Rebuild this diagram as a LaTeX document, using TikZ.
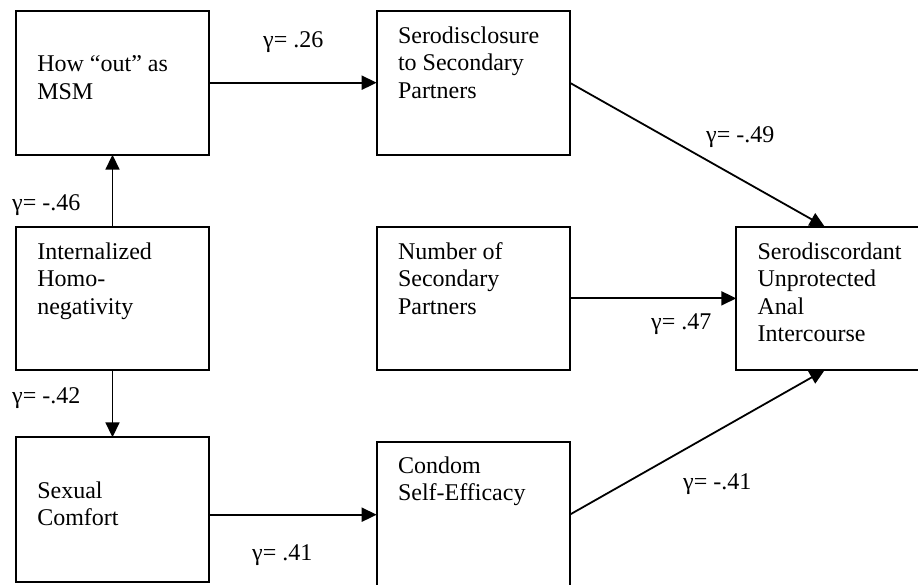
\documentclass[tikz,border=0pt]{standalone}
\usepackage{fontspec}
\setmainfont{Liberation Serif}
\usetikzlibrary{arrows.meta,calc}
\newcommand{\bxtext}[4]{\parbox[t][#1][t]{#2}{\raggedright\leftskip=21.3pt\rule{0pt}{#3}#4}}
\tikzset{
  vbox/.style={draw, line width=1.8pt, inner sep=0pt, outer sep=0pt, anchor=north west,
    font=\fontsize{24}{27.4}\selectfont},
  arr/.style={line width=1.8pt, -{Triangle[length=15pt,width=14pt]}},
  glab/.style={anchor=base west, inner sep=0pt, font=\fontsize{24}{27.4}\selectfont}
}
\begin{document}
\begin{tikzpicture}[x=1pt,y=-1pt]
\useasboundingbox (0,0) rectangle (918,585);
\fill[white] (0,0) rectangle (918,585);
% boxes
\node[vbox] (n1) at (16,10.7) {\bxtext{144pt}{193pt}{61pt}{How “out” as\\MSM}};
\node[vbox] (n2) at (376.7,10.7) {\bxtext{144pt}{193pt}{32.6pt}{Serodisclosure\\to Secondary\\Partners}};
\node[vbox] (n3) at (16,226.7) {\bxtext{143.3pt}{193pt}{32.6pt}{Internalized\\Homo-\\negativity}};
\node[vbox] (n4) at (376.7,226.7) {\bxtext{143.3pt}{193pt}{32.6pt}{Number of\\Secondary\\Partners}};
\node[vbox] (n5) at (736.3,226.7) {\bxtext{143.3pt}{190pt}{32.6pt}{Serodiscordant\\Unprotected\\Anal\\Intercourse}};
\node[vbox] (n6) at (16,437.3) {\bxtext{144.4pt}{193pt}{61pt}{Sexual\\Comfort}};
\node[vbox] (n7) at (376.7,441.7) {\bxtext{146pt}{193pt}{31.6pt}{Condom\\Self-Efficacy}};
% arrow targets on the outcome box
\coordinate (t5a) at ($(n5.north west)+(88.4,0)$);
\coordinate (t5b) at ($(n5.south west)+(88.4,0)$);
% connectors
\draw[arr] (n1.east) -- (n2.west);
\draw[arr] (n3.north) -- (n1.south);
\draw[arr] (n3.south) -- (n6.north);
\draw[arr] (n4.east) -- (n5.west);
\draw[arr] (n6.east |- n7.west) -- (n7.west);
\draw[arr] (n2.east) -- (t5a);
\draw[arr] (n7.east) -- (t5b);
% labels
\node[glab] (l1) at (263,47.3) {γ= .26};
\node[glab] (l2) at (12,210.7) {γ= -.46};
\node[glab] (l3) at (706,142.7) {γ= -.49};
\node[glab] (l4) at (651,329.3) {γ= .47};
\node[glab] (l5) at (12,403.3) {γ= -.42};
\node[glab] (l6) at (252,560) {γ= .41};
\node[glab] (l7) at (683,489.3) {γ= -.41};
\end{tikzpicture}
\end{document}
